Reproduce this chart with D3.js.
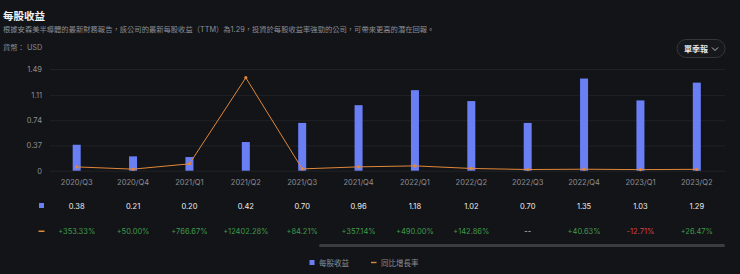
<!DOCTYPE html>
<html>
<head>
<meta charset="utf-8">
<script src="https://cdn.jsdelivr.net/npm/d3@7"></script>
<style>
  html, body { margin: 0; padding: 0; background: #131417; }
  svg { display: block; font-family: Inter, "Noto Sans CJK TC", sans-serif; }
</style>
</head>
<body>
<script>
// chart data
var quarters = ["2020/Q3", "2020/Q4", "2021/Q1", "2021/Q2", "2021/Q3", "2021/Q4",
                "2022/Q1", "2022/Q2", "2022/Q3", "2022/Q4", "2023/Q1", "2023/Q2"];
var eps = [0.38, 0.21, 0.20, 0.42, 0.70, 0.96, 1.18, 1.02, 0.70, 1.35, 1.03, 1.29];
var growth = [353.33, 50.00, 766.67, 12402.28, 84.21, 357.14, 490.00, 142.86, null, 40.63, -12.71, 26.47];
var yTicks = [0, 0.37, 0.74, 1.11, 1.49];

var W = 740, H = 274;
var barColor = "#6b7ff4", lineColor = "#e0873a";
var grey = "#8b8e95";

var svg = d3.select("body").append("svg")
    .attr("width", W)
    .attr("height", H);

// header
svg.append("text")
    .attr("x", 3).attr("y", 20)
    .attr("fill", "#f2f2f2")
    .attr("font-size", 10.5)
    .attr("font-weight", "bold")
    .text("每股收益");

svg.append("text")
    .attr("x", 3).attr("y", 32)
    .attr("fill", grey)
    .attr("font-size", 7.3)
    .text("根據安森美半導體的最新財務報告，該公司的最新每股收益（TTM）為1.29，投資於每股收益率強勁的公司，可帶來更高的潛在回報。");

svg.append("text")
    .attr("x", 3).attr("y", 50)
    .attr("fill", grey)
    .attr("font-size", 7.3)
    .text("貨幣： USD");

// period selector button
var btn = svg.append("g").attr("transform", "translate(677,39.5)");
btn.append("rect")
    .attr("width", 48).attr("height", 18).attr("rx", 9)
    .attr("fill", "#17181c")
    .attr("stroke", "#34363b")
    .attr("stroke-width", 1);
btn.append("text")
    .attr("x", 7).attr("y", 12.3)
    .attr("fill", "#e8e8e8")
    .attr("font-size", 8)
    .attr("font-weight", "bold")
    .text("單季報");
btn.append("path")
    .attr("d", "M35,8 L38,11 L41,8")
    .attr("fill", "none")
    .attr("stroke", "#cfd0d3")
    .attr("stroke-width", 0.9);

// scales
var x = d3.scaleBand()
    .domain(quarters)
    .range([48.5, 725]);

var y = d3.scaleLinear()
    .domain([0, 1.49])
    .range([170.7, 69]);

var yGrowth = d3.scaleLinear()
    .domain([-160, 13580])
    .range([170.7, 69]);

// grid + y labels
var yAxis = d3.axisLeft(y)
    .tickValues(yTicks)
    .tickSize(-(725 - 50))
    .tickFormat(function (d) { return d === 0 ? "0" : d3.format(".2f")(d).replace(/^0\./, "0."); })
    .tickPadding(8);

var gy = svg.append("g")
    .attr("transform", "translate(50,0)")
    .call(yAxis);
gy.select(".domain").remove();
gy.selectAll(".tick line").attr("stroke", "#23252a").attr("stroke-width", 0.8);
gy.selectAll(".tick text")
    .attr("fill", grey)
    .attr("font-size", 7.5)
    .attr("font-family", "Inter, sans-serif");

// x labels
var xAxis = d3.axisBottom(x).tickSize(0).tickPadding(9);
var gx = svg.append("g")
    .attr("transform", "translate(0,170.7)")
    .call(xAxis);
gx.select(".domain").remove();
gx.selectAll(".tick text")
    .attr("fill", grey)
    .attr("font-size", 7.5)
    .attr("font-family", "Inter, sans-serif");

// bars
var barW = 8;
svg.append("g").selectAll("rect")
    .data(eps)
    .join("rect")
    .attr("x", function (d, i) { return x(quarters[i]) + x.bandwidth() / 2 - barW / 2; })
    .attr("y", function (d) { return y(d); })
    .attr("width", barW)
    .attr("height", function (d) { return y(0) - y(d); })
    .attr("fill", barColor);

// growth line
var line = d3.line()
    .x(function (d, i) { return x(quarters[i]) + x.bandwidth() / 2; })
    .y(function (d) { return yGrowth(d === null ? 0 : d); });

svg.append("path")
    .datum(growth)
    .attr("d", line)
    .attr("fill", "none")
    .attr("stroke", lineColor)
    .attr("stroke-width", 1);

svg.append("g").selectAll("circle")
    .data(growth)
    .join("circle")
    .attr("cx", function (d, i) { return x(quarters[i]) + x.bandwidth() / 2; })
    .attr("cy", function (d) { return yGrowth(d === null ? 0 : d); })
    .attr("r", 1.6)
    .attr("fill", lineColor);

// table rows
svg.append("rect")
    .attr("x", 39).attr("y", 203).attr("width", 5).attr("height", 5)
    .attr("fill", barColor);
svg.append("rect")
    .attr("x", 38.5).attr("y", 230.5).attr("width", 6).attr("height", 1.5)
    .attr("fill", lineColor);

svg.append("g").selectAll("text")
    .data(eps)
    .join("text")
    .attr("x", function (d, i) { return x(quarters[i]) + x.bandwidth() / 2; })
    .attr("y", 208.5)
    .attr("text-anchor", "middle")
    .attr("fill", "#ececec")
    .attr("font-size", 7.5)
    .text(function (d) { return d.toFixed(2); });

svg.append("g").selectAll("text")
    .data(growth)
    .join("text")
    .attr("x", function (d, i) { return x(quarters[i]) + x.bandwidth() / 2; })
    .attr("y", 234)
    .attr("text-anchor", "middle")
    .attr("font-size", 7.5)
    .attr("fill", function (d) { return d === null ? "#d8d8d8" : (d < 0 ? "#d6404a" : "#3f9a4c"); })
    .text(function (d) {
        if (d === null) return "--";
        return (d > 0 ? "+" : "") + d.toFixed(2) + "%";
    });

// scrollbar
svg.append("rect")
    .attr("x", 319).attr("y", 244).attr("width", 406).attr("height", 3).attr("rx", 1.5)
    .attr("fill", "#3a3c41");

// legend
var legend = svg.append("g");
legend.append("rect")
    .attr("x", 309.5).attr("y", 260).attr("width", 5).attr("height", 5)
    .attr("fill", barColor);
legend.append("text")
    .attr("x", 319).attr("y", 265.5)
    .attr("fill", grey)
    .attr("font-size", 7.5)
    .text("每股收益");
legend.append("rect")
    .attr("x", 371).attr("y", 261.8).attr("width", 5.5).attr("height", 1.4)
    .attr("fill", lineColor);
legend.append("text")
    .attr("x", 381).attr("y", 265.5)
    .attr("fill", grey)
    .attr("font-size", 7.5)
    .text("同比增長率");
</script>
</body>
</html>
